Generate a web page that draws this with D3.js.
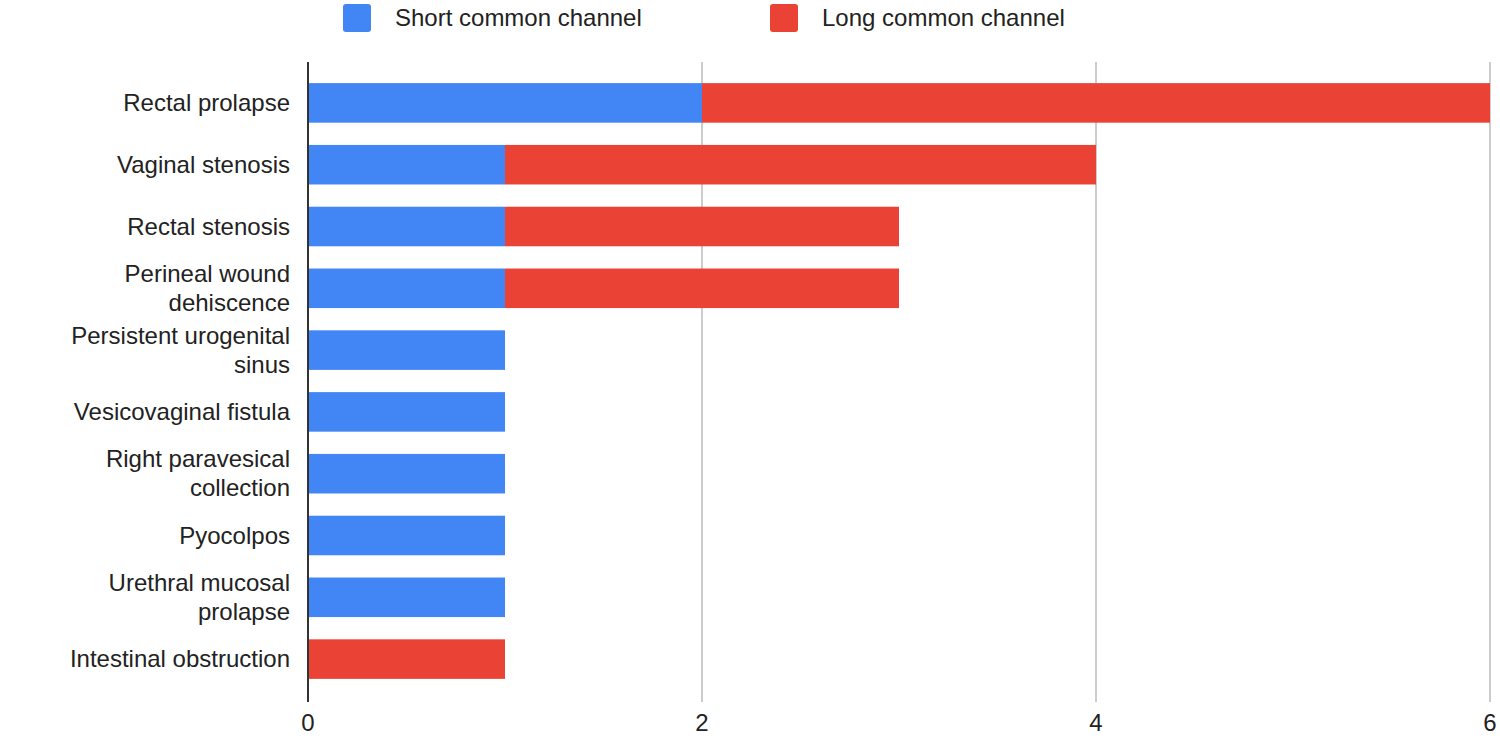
<!DOCTYPE html>
<html>
<head>
<meta charset="utf-8">
<script src="https://cdn.jsdelivr.net/npm/d3@7"></script>
<style>
  body { margin: 0; background: #fff; font-family: "Liberation Sans", Arial, sans-serif; }
</style>
</head>
<body>
<div id="chart"></div>
<script>
// Categories (label lines) and values
const categories = [
    ["Rectal prolapse"],
    ["Vaginal stenosis"],
    ["Rectal stenosis"],
    ["Perineal wound", "dehiscence"],
    ["Persistent urogenital", "sinus"],
    ["Vesicovaginal fistula"],
    ["Right paravesical", "collection"],
    ["Pyocolpos"],
    ["Urethral mucosal", "prolapse"],
    ["Intestinal obstruction"]
];
const shortChannel = [2, 1, 1, 1, 1, 1, 1, 1, 1, 0];
const longChannel = [4, 3, 2, 2, 0, 0, 0, 0, 0, 1];
const xTicks = [0, 2, 4, 6];
const seriesNames = ["Short common channel", "Long common channel"];
const colors = ["#4285f4", "#ea4335"];

const W = 1500, H = 741;
const svg = d3.select("#chart").append("svg").attr("width", W).attr("height", H);

const keys = categories.map(c => c.join(" "));
const x = d3.scaleLinear().domain([0, 6]).range([308, 1490]);
const y = d3.scaleBand().domain(keys).range([72, 690]).paddingInner(0.36).paddingOuter(0.18);

// Grid lines
svg.append("g")
    .selectAll("line")
    .data(xTicks.slice(1))
    .enter().append("line")
    .attr("x1", d => x(d)).attr("x2", d => x(d))
    .attr("y1", 62).attr("y2", 702)
    .attr("stroke", "#cccccc").attr("stroke-width", 2);

// Stacked bars
const rows = keys.map((k, i) => ({ key: k, s: shortChannel[i], l: longChannel[i] }));
svg.append("g").selectAll("rect")
    .data(rows).enter().append("rect")
    .attr("x", x(0))
    .attr("y", d => y(d.key))
    .attr("width", d => x(d.s) - x(0))
    .attr("height", y.bandwidth())
    .attr("fill", colors[0]);
svg.append("g").selectAll("rect")
    .data(rows).enter().append("rect")
    .attr("x", d => x(d.s))
    .attr("y", d => y(d.key))
    .attr("width", d => x(d.s + d.l) - x(d.s))
    .attr("height", y.bandwidth())
    .attr("fill", colors[1]);

// Zero axis line
svg.append("line")
    .attr("x1", x(0)).attr("x2", x(0))
    .attr("y1", 62).attr("y2", 702)
    .attr("stroke", "#333").attr("stroke-width", 2);

// X tick labels
svg.append("g").selectAll("text")
    .data(xTicks).enter().append("text")
    .attr("x", d => x(d)).attr("y", 731)
    .attr("text-anchor", "middle")
    .style("font-size", "24px").style("fill", "#222")
    .text(d => d);

// Category labels
const lab = svg.append("g").selectAll("text")
    .data(categories).enter().append("text")
    .attr("text-anchor", "end")
    .style("font-size", "24px").style("fill", "#222")
    .attr("transform", (d, i) => `translate(290,${y(keys[i]) + y.bandwidth() / 2})`);
lab.selectAll("tspan")
    .data(d => d.map((t, j) => ({ t, j, n: d.length })))
    .enter().append("tspan")
    .attr("x", 0)
    .attr("y", d => (d.j - (d.n - 1) / 2) * 29 + 8)
    .text(d => d.t);

// Legend
const legX = [343, 770];
seriesNames.forEach((name, i) => {
    svg.append("rect").attr("x", legX[i]).attr("y", 4).attr("width", 28).attr("height", 28)
        .attr("rx", 3).attr("fill", colors[i]);
    svg.append("text").attr("x", legX[i] + 52).attr("y", 26)
        .style("font-size", "24px").style("fill", "#222").text(name);
});
</script>
</body>
</html>
